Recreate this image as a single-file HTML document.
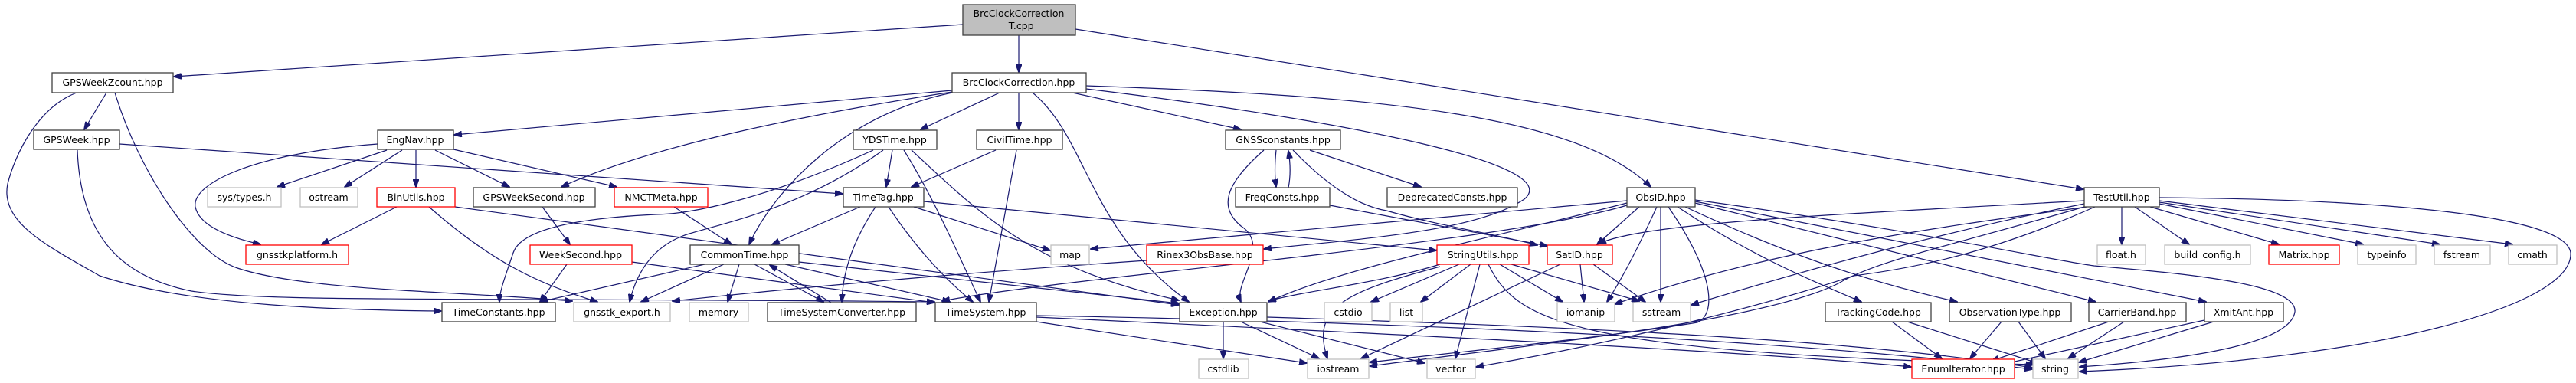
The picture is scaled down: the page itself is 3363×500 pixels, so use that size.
<!DOCTYPE html>
<html><head><meta charset="utf-8"><style>
html,body{margin:0;padding:0;background:#fff;}
svg{display:block}
.e{fill:none;stroke:#191970;stroke-width:1.2}
.n rect{fill:#fff;stroke:#404040;stroke-width:1.3}
.r rect{fill:#fff;stroke:#ff0000;stroke-width:1.3}
.g rect{fill:#fff;stroke:#bfbfbf;stroke-width:1.3}
text{font-family:"DejaVu Sans","Liberation Sans",sans-serif;font-size:12.5px;fill:#000;text-anchor:middle}
</style></head><body>
<svg width="3363" height="500" viewBox="0 0 3363 500" xmlns="http://www.w3.org/2000/svg">
<defs><marker id="a" markerWidth="11" markerHeight="8" refX="10" refY="4" orient="auto" markerUnits="userSpaceOnUse"><path d="M0,0 L11,4 L0,8 z" fill="#191970" stroke="#191970"/></marker></defs>
<g class="e" marker-end="url(#a)">
<path d="M1257,32 L227,100"/>
<path d="M1330,46 L1330,94"/>
<path d="M1404,38 L2720,247"/>
<path d="M1243,118 L593,176"/>
<path d="M1243,120 C1050,150 850,190 733,244"/>
<path d="M1243,121 C1100,150 1010,250 978,319"/>
<path d="M1305,121 L1202,169"/>
<path d="M1330,121 L1330,169"/>
<path d="M1348,121 C1420,180 1420,300 1552,394"/>
<path d="M1400,121 L1620,169"/>
<path d="M1418,112 C1800,125 2060,150 2155,244"/>
<path d="M1418,116 C1700,150 2050,210 1990,260 C1930,300 1800,310 1650,325"/>
<path d="M139,121 L110,169"/>
<path d="M100,121 C50,140 20,200 10,240 C0,290 60,320 130,360 C250,400 450,405 576,406"/>
<path d="M150,121 C180,220 250,330 310,350 C400,380 600,380 747,393"/>
<path d="M156,188 L1100,253"/>
<path d="M101,196 C105,300 150,360 250,380 C350,395 600,388 1220,394"/>
<path d="M493,188 C330,200 250,240 255,270 C260,295 300,310 340,319"/>
<path d="M505,196 L362,244"/>
<path d="M525,196 L450,244"/>
<path d="M543,196 L543,244"/>
<path d="M568,196 L665,244"/>
<path d="M592,195 L805,244"/>
<path d="M518,270 L420,319"/>
<path d="M560,270 C640,340 700,370 780,394"/>
<path d="M594,270 L1539,398"/>
<path d="M708,270 L744,319"/>
<path d="M880,270 L955,319"/>
<path d="M740,345 L705,394"/>
<path d="M825,342 L1220,395"/>
<path d="M1165,196 L1157,244"/>
<path d="M1180,196 C1220,260 1250,330 1280,394"/>
<path d="M1190,196 C1280,280 1350,350 1539,392"/>
<path d="M1153,196 C1050,270 950,290 900,305 C850,320 830,360 822,394"/>
<path d="M1140,196 C1000,260 900,280 856,280 C750,285 680,300 670,330 C660,360 652,380 652,394"/>
<path d="M1300,196 L1190,244"/>
<path d="M1327,196 L1291,394"/>
<path d="M1123,270 L1008,319"/>
<path d="M1143,270 C1110,320 1100,360 1099,394"/>
<path d="M1160,270 C1200,330 1240,370 1270,394"/>
<path d="M1193,270 L1371,327"/>
<path d="M1206,263 L1875,327"/>
<path d="M920,345 L705,394"/>
<path d="M945,345 L837,394"/>
<path d="M965,345 L950,394"/>
<path d="M985,345 L1075,394"/>
<path d="M1085,395 L1005,346"/>
<path d="M1025,345 L1240,394"/>
<path d="M1043,342 L1539,396"/>
<path d="M1353,420 L1706,474"/>
<path d="M1353,412 C1800,420 2300,440 2653,482"/>
<path d="M1353,414 C1900,440 2300,460 2495,479"/>
<path d="M1597,420 L1597,468"/>
<path d="M1620,420 L1722,468"/>
<path d="M1645,420 L1860,474"/>
<path d="M1654,414 C2000,425 2400,440 2653,480"/>
<path d="M1666,196 C1664,215 1664,230 1666,244"/>
<path d="M1682,245 C1685,230 1685,215 1682,197"/>
<path d="M1710,196 L1855,244"/>
<path d="M1688,196 C1740,250 1780,270 1810,275 C1880,295 1950,305 2007,320"/>
<path d="M1650,196 C1600,240 1590,270 1620,295 C1660,320 1610,370 1620,394"/>
<path d="M1736,268 L2020,321"/>
<path d="M1497,340 C1200,360 1000,380 878,393"/>
<path d="M1880,345 C1800,370 1700,380 1656,393"/>
<path d="M1905,345 L1790,394"/>
<path d="M1920,345 L1855,394"/>
<path d="M1880,348 C1760,380 1710,400 1733,468"/>
<path d="M1932,345 L1900,468"/>
<path d="M1958,345 L2040,394"/>
<path d="M1973,345 L2140,393"/>
<path d="M1943,345 C1980,420 2050,460 2655,476"/>
<path d="M2037,345 L1777,468"/>
<path d="M2063,345 L2068,394"/>
<path d="M2080,345 L2148,394"/>
<path d="M2124,262 L1424,325"/>
<path d="M2124,265 C1950,310 1750,350 1656,394"/>
<path d="M2124,268 C1950,320 1400,360 1230,393"/>
<path d="M2140,270 L2085,319"/>
<path d="M2163,270 C2140,320 2120,360 2098,394"/>
<path d="M2168,270 L2168,394"/>
<path d="M2178,270 C2240,360 2240,410 2216,421 C2100,440 1900,460 1788,473"/>
<path d="M2190,270 C2280,330 2350,360 2430,394"/>
<path d="M2200,270 C2350,340 2450,370 2555,394"/>
<path d="M2213,265 L2736,394"/>
<path d="M2213,263 L2880,394"/>
<path d="M2213,261 C2500,300 2680,340 2734,347 C2850,357 3000,370 2996,407 C2990,450 2850,470 2715,479"/>
<path d="M2721,262 C2400,280 2150,290 2087,318"/>
<path d="M2721,266 C2500,310 2300,370 2208,398"/>
<path d="M2721,270 C2550,320 2450,340 2400,370 C2300,420 2000,450 1788,478"/>
<path d="M2735,270 C2600,330 2500,350 2420,360 C2300,400 2100,450 1927,479"/>
<path d="M2725,270 C2500,300 2300,330 2108,397"/>
<path d="M2770,270 L2770,319"/>
<path d="M2787,270 L2858,319"/>
<path d="M2807,270 L2975,319"/>
<path d="M2819,266 L3085,319"/>
<path d="M2819,264 L3185,319"/>
<path d="M2819,262 L3280,319"/>
<path d="M2819,258 C3100,260 3350,280 3356,330 C3360,400 3100,470 2715,485"/>
<path d="M2470,420 L2535,468"/>
<path d="M2490,420 L2660,474"/>
<path d="M2613,420 L2572,468"/>
<path d="M2635,420 L2670,468"/>
<path d="M2753,420 L2600,471"/>
<path d="M2773,420 L2700,468"/>
<path d="M2878,418 L2612,476"/>
<path d="M2890,420 L2714,473"/>
</g>

<g class="n"><rect x="1257" y="6" width="147" height="40" style="fill:#bfbfbf"/><text x="1330" y="22">BrcClockCorrection</text><text x="1330" y="38">_T.cpp</text></g>
<g class="n"><rect x="68" y="95" width="158" height="26"/><text x="147" y="112">GPSWeekZcount.hpp</text></g>
<g class="n"><rect x="1243" y="95" width="175" height="26"/><text x="1330" y="112">BrcClockCorrection.hpp</text></g>
<g class="n"><rect x="44" y="170" width="112" height="25"/><text x="100" y="187">GPSWeek.hpp</text></g>
<g class="n"><rect x="493" y="170" width="99" height="25"/><text x="542" y="187">EngNav.hpp</text></g>
<g class="n"><rect x="1114" y="170" width="109" height="25"/><text x="1168" y="187">YDSTime.hpp</text></g>
<g class="n"><rect x="1275" y="170" width="112" height="25"/><text x="1331" y="187">CivilTime.hpp</text></g>
<g class="n"><rect x="1600" y="170" width="150" height="25"/><text x="1675" y="187">GNSSconstants.hpp</text></g>

<g class="g"><rect x="271" y="245" width="96" height="25"/><text x="319" y="262">sys/types.h</text></g>
<g class="g"><rect x="392" y="245" width="75" height="25"/><text x="429" y="262">ostream</text></g>
<g class="r"><rect x="492" y="245" width="102" height="25"/><text x="543" y="262">BinUtils.hpp</text></g>
<g class="n"><rect x="618" y="245" width="159" height="25"/><text x="697" y="262">GPSWeekSecond.hpp</text></g>
<g class="r"><rect x="802" y="245" width="122" height="25"/><text x="863" y="262">NMCTMeta.hpp</text></g>
<g class="n"><rect x="1101" y="245" width="105" height="25"/><text x="1153" y="262">TimeTag.hpp</text></g>
<g class="n"><rect x="1613" y="245" width="123" height="25"/><text x="1674" y="262">FreqConsts.hpp</text></g>
<g class="n"><rect x="1811" y="245" width="170" height="25"/><text x="1896" y="262">DeprecatedConsts.hpp</text></g>
<g class="n"><rect x="2124" y="245" width="89" height="25"/><text x="2168" y="262">ObsID.hpp</text></g>
<g class="n"><rect x="2721" y="245" width="98" height="25"/><text x="2770" y="262">TestUtil.hpp</text></g>

<g class="r"><rect x="321" y="320" width="134" height="25"/><text x="388" y="337">gnsstkplatform.h</text></g>
<g class="r"><rect x="692" y="320" width="133" height="25"/><text x="758" y="337">WeekSecond.hpp</text></g>
<g class="n"><rect x="901" y="320" width="142" height="25"/><text x="972" y="337">CommonTime.hpp</text></g>
<g class="g"><rect x="1372" y="320" width="50" height="25"/><text x="1397" y="337">map</text></g>
<g class="r"><rect x="1497" y="320" width="152" height="25"/><text x="1573" y="337">Rinex3ObsBase.hpp</text></g>
<g class="r"><rect x="1876" y="320" width="120" height="25"/><text x="1936" y="337">StringUtils.hpp</text></g>
<g class="r"><rect x="2020" y="320" width="85" height="25"/><text x="2062" y="337">SatID.hpp</text></g>
<g class="g"><rect x="2738" y="320" width="63" height="25"/><text x="2769" y="337">float.h</text></g>
<g class="g"><rect x="2826" y="320" width="112" height="25"/><text x="2882" y="337">build_config.h</text></g>
<g class="r"><rect x="2962" y="320" width="92" height="25"/><text x="3008" y="337">Matrix.hpp</text></g>
<g class="g"><rect x="3078" y="320" width="76" height="25"/><text x="3116" y="337">typeinfo</text></g>
<g class="g"><rect x="3178" y="320" width="73" height="25"/><text x="3214" y="337">fstream</text></g>
<g class="g"><rect x="3275" y="320" width="63" height="25"/><text x="3306" y="337">cmath</text></g>

<g class="n"><rect x="577" y="395" width="148" height="25"/><text x="651" y="412">TimeConstants.hpp</text></g>
<g class="g"><rect x="749" y="395" width="126" height="25"/><text x="812" y="412">gnsstk_export.h</text></g>
<g class="g"><rect x="900" y="395" width="77" height="25"/><text x="938" y="412">memory</text></g>
<g class="n"><rect x="1002" y="395" width="194" height="25"/><text x="1099" y="412">TimeSystemConverter.hpp</text></g>
<g class="n"><rect x="1221" y="395" width="132" height="25"/><text x="1287" y="412">TimeSystem.hpp</text></g>
<g class="n"><rect x="1540" y="395" width="114" height="25"/><text x="1597" y="412">Exception.hpp</text></g>
<g class="g"><rect x="1729" y="395" width="62" height="25"/><text x="1760" y="412">cstdio</text></g>
<g class="g"><rect x="1815" y="395" width="42" height="25"/><text x="1836" y="412">list</text></g>
<g class="g"><rect x="2033" y="395" width="75" height="25"/><text x="2070" y="412">iomanip</text></g>
<g class="g"><rect x="2132" y="395" width="75" height="25"/><text x="2169" y="412">sstream</text></g>
<g class="n"><rect x="2383" y="395" width="138" height="25"/><text x="2452" y="412">TrackingCode.hpp</text></g>
<g class="n"><rect x="2545" y="395" width="159" height="25"/><text x="2624" y="412">ObservationType.hpp</text></g>
<g class="n"><rect x="2727" y="395" width="127" height="25"/><text x="2790" y="412">CarrierBand.hpp</text></g>
<g class="n"><rect x="2878" y="395" width="103" height="25"/><text x="2929" y="412">XmitAnt.hpp</text></g>

<g class="g"><rect x="1565" y="469" width="65" height="25"/><text x="1597" y="486">cstdlib</text></g>
<g class="g"><rect x="1707" y="469" width="80" height="25"/><text x="1747" y="486">iostream</text></g>
<g class="g"><rect x="1863" y="469" width="63" height="25"/><text x="1894" y="486">vector</text></g>
<g class="r"><rect x="2496" y="469" width="134" height="25"/><text x="2563" y="486">EnumIterator.hpp</text></g>
<g class="g"><rect x="2654" y="469" width="59" height="25"/><text x="2683" y="486">string</text></g>
</svg>
</body></html>
